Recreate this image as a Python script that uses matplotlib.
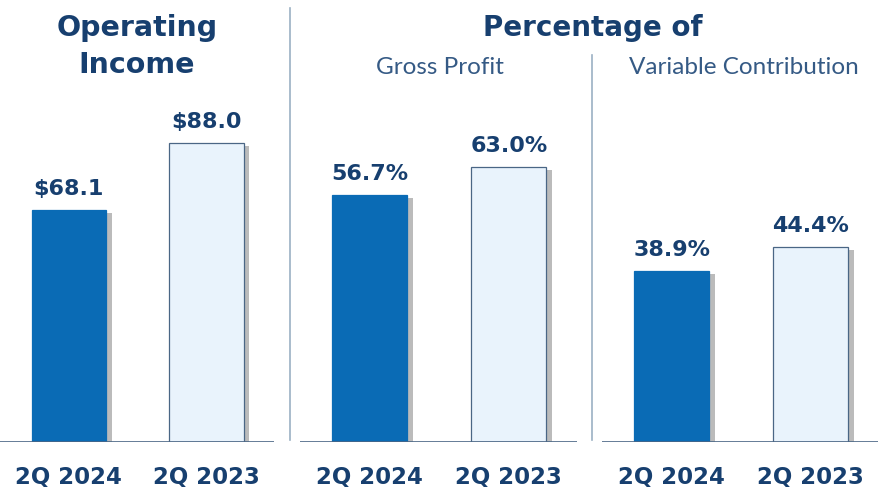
import matplotlib.pyplot as plt
import matplotlib.patheffects as pe
from matplotlib.lines import Line2D

# data
periods = ["2Q 2024", "2Q 2023"]
operating_income = [68.1, 88.0]
pct_gross_profit = [56.7, 63.0]
pct_variable_contribution = [38.9, 44.4]

income_labels = ["$68.1", "$88.0"]
gp_labels = ["56.7%", "63.0%"]
vc_labels = ["38.9%", "44.4%"]

navy = "#173f6f"
dark_blue = "#0a6bb5"
light_blue = "#e9f3fc"
edge = "#4a6685"
divider = "#9bb0c4"

plt.rcParams["font.family"] = ["DejaVu Sans"]

W, H = 879, 487
fig = plt.figure(figsize=(W / 100, H / 100), dpi=100)


def panel(x0, x1, top, ymax, values, labels):
    base = 442
    ax = fig.add_axes([x0 / W, (H - base) / H, (x1 - x0) / W, (base - top) / H])
    shadow = [pe.SimplePatchShadow(offset=(4, -2), shadow_rgbFace="#555555", alpha=0.4), pe.Normal()]
    bars = ax.bar([0, 1], values, width=0.54, color=[dark_blue, light_blue],
                  edgecolor=[dark_blue, edge], linewidth=0.9, zorder=3)
    for b in bars:
        b.set_path_effects(shadow)
    for b, lab in zip(bars, labels):
        ax.annotate(lab, (b.get_x() + b.get_width() / 2, b.get_height()),
                    xytext=(0, 8), textcoords="offset points", ha="center", va="bottom",
                    fontsize=16, fontweight="bold", color=navy)
    ax.axhline(0, color=edge, linewidth=1.2, zorder=4)
    ax.set_xlim(-0.5, 1.49)
    ax.set_ylim(0, ymax)
    ax.set_xticks([0, 1])
    ax.set_xticklabels(periods, fontsize=16.5, fontweight="bold", color=navy)
    ax.tick_params(axis="x", length=0, pad=17)
    ax.set_yticks([])
    for s in ax.spines.values():
        s.set_visible(False)
    ax.patch.set_alpha(0)
    return ax


panel(0, 274, 102, 100, operating_income, income_labels)
panel(300, 577, 102, 78, pct_gross_profit, gp_labels)
panel(602, 879, 102, 77.5, pct_variable_contribution, vc_labels)

# headings
fig.text(137 / W, 1 - 28 / H, "Operating", ha="center", va="center",
         fontsize=20.5, fontweight="bold", color=navy)
fig.text(137 / W, 1 - 65 / H, "Income", ha="center", va="center",
         fontsize=20.5, fontweight="bold", color=navy)
fig.text(593 / W, 1 - 28 / H, "Percentage of", ha="center", va="center",
         fontsize=20, fontweight="bold", color=navy)
fig.text(440 / W, 1 - 68 / H, "Gross Profit", ha="center", va="center",
         fontsize=17.5, family=["Lato", "DejaVu Sans"], color="#355a85")
fig.text(744 / W, 1 - 68 / H, "Variable Contribution", ha="center", va="center",
         fontsize=17.5, family=["Lato", "DejaVu Sans"], color="#355a85")

# dividers
fig.add_artist(Line2D([290 / W, 290 / W], [1 - 8 / H, 1 - 440 / H], color=divider, linewidth=1.2))
fig.add_artist(Line2D([592 / W, 592 / W], [1 - 55 / H, 1 - 440 / H], color=divider, linewidth=1.2))

fig.savefig("out.png", dpi=100)
